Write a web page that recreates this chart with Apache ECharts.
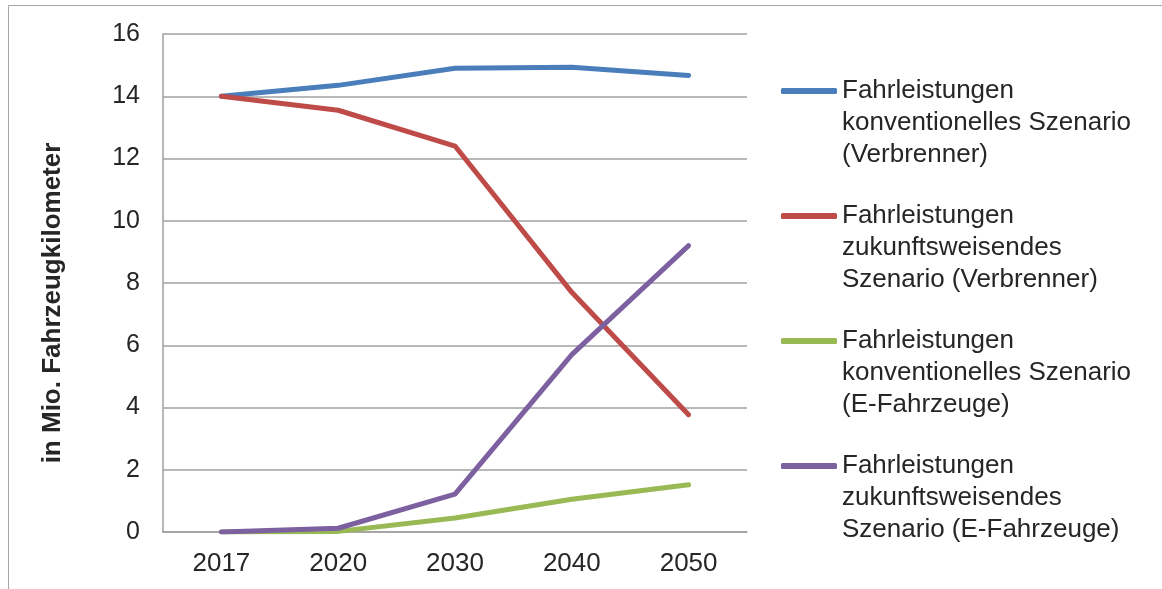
<!DOCTYPE html>
<html>
<head>
<meta charset="utf-8">
<script src="https://cdn.jsdelivr.net/npm/echarts@6/dist/echarts.min.js"></script>
<style>
  html, body { margin: 0; padding: 0; background: #fff; }
  #chart { width: 1162px; height: 589px; }
</style>
</head>
<body>
<div id="chart"></div>
<script>
// Kategorien (Jahre)
const years = ['2017', '2020', '2030', '2040', '2050'];
const yTicks = [0, 2, 4, 6, 8, 10, 12, 14, 16];

const seriesNames = [
    'Fahrleistungen\nkonventionelles Szenario\n(Verbrenner)',
    'Fahrleistungen\nzukunftsweisendes\nSzenario (Verbrenner)',
    'Fahrleistungen\nkonventionelles Szenario\n(E-Fahrzeuge)',
    'Fahrleistungen\nzukunftsweisendes\nSzenario (E-Fahrzeuge)'
];

// Werte in Mio. Fahrzeugkilometer
const konvVerbrenner = [14.0, 14.35, 14.9, 14.93, 14.67];
const zukVerbrenner = [14.0, 13.55, 12.4, 7.7, 3.77];
const konvElektro = [0, 0.02, 0.45, 1.05, 1.52];
const zukElektro = [0, 0.12, 1.22, 5.7, 9.2];

const colors = ['#4a7ebb', '#be4b48', '#98b954', '#7d60a0'];
const allData = [konvVerbrenner, zukVerbrenner, konvElektro, zukElektro];

const chart = echarts.init(document.getElementById('chart'));

const series = allData.map((d, i) => ({
    name: seriesNames[i],
    type: 'line',
    data: d,
    symbol: 'none',
    lineStyle: { width: 5, color: colors[i], cap: 'round', join: 'round' },
    itemStyle: { color: colors[i] },
    emphasis: { disabled: true }
}));

chart.setOption({
    animation: false,
    textStyle: { fontFamily: 'Liberation Sans, Arial, sans-serif' },
    graphic: [{
        type: 'rect',
        shape: { x: 8.5, y: 5.5, width: 2000, height: 2000 },
        style: { fill: 'none', stroke: '#a6a6a6', lineWidth: 1 },
        silent: true
    }],
    grid: { left: 163, top: 34, width: 584, height: 498 },
    legend: {
        orient: 'vertical',
        left: 781,
        top: 11,
        padding: 0,
        icon: 'roundRect',
        itemWidth: 56,
        itemHeight: 6,
        itemGap: -35,
        selectedMode: false,
        data: seriesNames,
        formatter: name => '\n\n' + name,
        textStyle: { fontSize: 26, color: '#262626', lineHeight: 32 }
    },
    xAxis: {
        type: 'category',
        data: years,
        boundaryGap: true,
        axisLine: { lineStyle: { color: '#a0a0a0', width: 1.5 } },
        axisTick: { show: false },
        axisLabel: { fontSize: 26, color: '#262626', margin: 19 }
    },
    yAxis: {
        type: 'value',
        min: yTicks[0],
        max: yTicks[yTicks.length - 1],
        interval: 2,
        name: 'in Mio. Fahrzeugkilometer',
        nameLocation: 'middle',
        nameRotate: 90,
        nameGap: 97,
        nameTextStyle: { fontSize: 26, fontWeight: 'bold', color: '#262626', padding: [0, 40, 0, 0] },
        axisLine: { show: true, lineStyle: { color: '#a0a0a0', width: 1.5 } },
        axisTick: { show: false },
        axisLabel: { fontSize: 25, color: '#262626', margin: 23 },
        splitLine: { lineStyle: { color: '#a0a0a0', width: 1.5 } }
    },
    series: series
});
</script>
</body>
</html>
